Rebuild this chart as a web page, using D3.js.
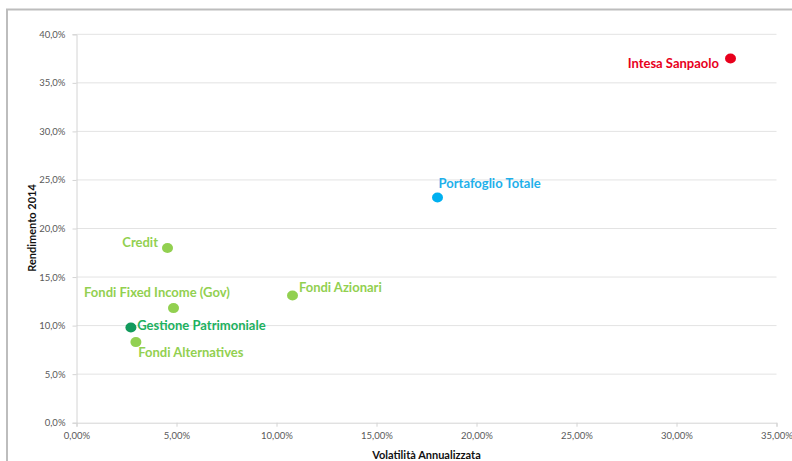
<!DOCTYPE html>
<html>
<head>
<meta charset="utf-8">
<script src="https://cdn.jsdelivr.net/npm/d3@7"></script>
<style>
  body { margin: 0; background: #fff; }
  svg { display: block; }
  .tick text { font-family: Lato, "Open Sans", sans-serif; font-size: 9.5px; fill: #595959; }
  .ptLabel { font-family: Lato, "Open Sans", sans-serif; font-weight: bold; font-size: 13px; }
  .axTitle { font-family: Lato, "Open Sans", sans-serif; font-weight: bold; font-size: 11px; fill: #111; }
</style>
</head>
<body>
<div id="chart"></div>
<script>
var svgWidth = 792;
var svgHeight = 461;

// data (percent values)
var names = ["Intesa Sanpaolo", "Portafoglio Totale", "Credit", "Fondi Fixed Income (Gov)",
             "Fondi Azionari", "Gestione Patrimoniale", "Fondi Alternatives"];
var volatility = [32.7, 18.05, 4.55, 4.85, 10.8, 2.72, 2.97];
var returns2014 = [37.5, 23.2, 18.0, 11.8, 13.1, 9.8, 8.3];
var xTicks = [0, 5, 10, 15, 20, 25, 30, 35];
var yTicks = [0, 5, 10, 15, 20, 25, 30, 35, 40];

var colors = ["#e8001c", "#00b0f0", "#92d050", "#92d050", "#92d050", "#129a5c", "#92d050"];
var labelColors = ["#e8001c", "#1fb0ea", "#92d050", "#92d050", "#92d050", "#1db160", "#92d050"];

// label placement relative to each point
var labelPos = [
  { dx: -11.5, dy: 9.6, anchor: "end" },
  { dx: 1, dy: -9.5, anchor: "start" },
  { dx: -9.5, dy: -1.3, anchor: "end" },
  { dx: -16.5, dy: -11.6, anchor: "middle" },
  { dx: 6.4, dy: -3.7, anchor: "start" },
  { dx: 6.3, dy: 2.3, anchor: "start" },
  { dx: 2.3, dy: 15, anchor: "start" }
];

var margin = { top: 34.3, right: 15.5, bottom: 38.3, left: 76.5 };
var width = svgWidth - margin.left - margin.right;
var height = svgHeight - margin.top - margin.bottom;

var svg = d3.select("#chart")
  .append("svg")
  .attr("width", svgWidth)
  .attr("height", svgHeight);

// outer frame of the chart object
svg.append("path")
  .attr("d", "M7,461 L7,9.5 L792,9.5")
  .attr("fill", "none")
  .attr("stroke", "#bdbdbd")
  .attr("stroke-width", 2);

var chartGroup = svg.append("g")
  .attr("transform", `translate(${margin.left}, ${margin.top})`);

var xScale = d3.scaleLinear().domain([0, 35]).range([0, width]);
var yScale = d3.scaleLinear().domain([0, 40]).range([height, 0]);

var fmtX = v => d3.format(".2f")(v).replace(".", ",") + "%";
var fmtY = v => d3.format(".1f")(v).replace(".", ",") + "%";

// gridlines
chartGroup.append("g")
  .selectAll("line")
  .data(yTicks.filter(d => d > 0))
  .enter()
  .append("line")
  .attr("x1", 0)
  .attr("x2", width)
  .attr("y1", d => yScale(d))
  .attr("y2", d => yScale(d))
  .attr("stroke", "#e3e3e3")
  .attr("stroke-width", 1);

var bottomAxis = d3.axisBottom(xScale).tickValues(xTicks).tickFormat(fmtX).tickSize(4).tickPadding(6);
var leftAxis = d3.axisLeft(yScale).tickValues(yTicks).tickFormat(fmtY).tickSize(4).tickPadding(7);

var xAxis = chartGroup.append("g")
  .attr("transform", `translate(0, ${height})`)
  .call(bottomAxis);

var yAxis = chartGroup.append("g")
  .call(leftAxis);

[xAxis, yAxis].forEach(ax => {
  ax.select(".domain").attr("stroke", "#d4d4d4");
  ax.selectAll(".tick line").attr("stroke", "#d4d4d4");
});

var idx = d3.range(names.length);

chartGroup.append("g")
  .selectAll("ellipse")
  .data(idx)
  .enter()
  .append("ellipse")
  .attr("cx", i => xScale(volatility[i]))
  .attr("cy", i => yScale(returns2014[i]))
  .attr("rx", 5.5)
  .attr("ry", 5)
  .attr("fill", i => colors[i]);

chartGroup.append("g")
  .selectAll("text")
  .data(idx)
  .enter()
  .append("text")
  .attr("class", "ptLabel")
  .attr("x", i => xScale(volatility[i]) + labelPos[i].dx)
  .attr("y", i => yScale(returns2014[i]) + labelPos[i].dy)
  .attr("text-anchor", i => labelPos[i].anchor)
  .attr("fill", i => labelColors[i])
  .text(i => names[i]);

chartGroup.append("text")
  .attr("class", "axTitle")
  .attr("text-anchor", "middle")
  .attr("x", width / 2)
  .attr("y", height + 36)
  .text("Volatilità Annualizzata");

chartGroup.append("text")
  .attr("class", "axTitle")
  .attr("text-anchor", "middle")
  .attr("transform", `translate(${32 - margin.left + 4}, ${228 - margin.top}) rotate(-90)`)
  .text("Rendimento 2014");
</script>
</body>
</html>
